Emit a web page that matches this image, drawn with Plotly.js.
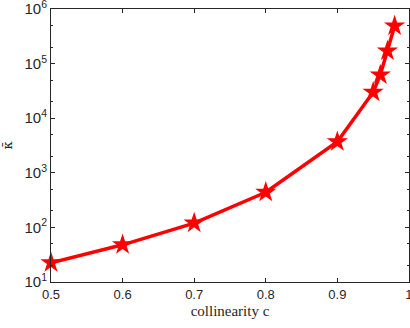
<!DOCTYPE html>
<html lang="en">
  <head>
    <meta charset="UTF-8" />
    <title>kappa vs collinearity</title>
    <script src="https://cdn.plot.ly/plotly-3.0.1.min.js"></script>
    <style>
      html, body { margin: 0; padding: 0; background: #fff; }
      #myDiv { width: 410px; height: 328px; }
    </style>
  </head>
  <body>
    <div id="myDiv"></div>
    <script>
      // collinearity levels and the condition number
      var collinearity = [0.5, 0.6, 0.7, 0.8, 0.9, 0.95, 0.96, 0.97, 0.98];
      var kappa = [22.5, 48, 120, 440, 3700, 30000, 62000, 170000, 490000];

      var xTicks = [0.5, 0.6, 0.7, 0.8, 0.9, 1];
      var xTickText = ["0.5", "0.6", "0.7", "0.8", "0.9", "1"];
      var yTicks = [10, 100, 1000, 10000, 100000, 1000000];
      var yTickText = yTicks.map(function (v) {
        return "10<sup>" + Math.round(Math.log10(v)) + "</sup>";
      });

      var axisColor = "#262626";

      var data = [
        {
          x: collinearity,
          y: kappa,
          mode: "lines+markers",
          line: { color: "#ff0000", width: 3.5 },
          marker: { symbol: "star", size: 16, color: "#ff0000" },
          cliponaxis: false,
        },
      ];

      var layout = {
        width: 410,
        height: 328,
        margin: { l: 51, r: 1, t: 9, b: 46 },
        paper_bgcolor: "#fff",
        plot_bgcolor: "#fff",
        showlegend: false,
        xaxis: {
          range: [0.5, 1.0001],
          tickvals: xTicks,
          ticktext: xTickText,
          ticks: "inside",
          ticklen: 4,
          tickcolor: axisColor,
          ticklabeloverflow: "allow",
          showline: true,
          linecolor: axisColor,
          mirror: "ticks",
          showgrid: false,
          zeroline: false,
          tickfont: { family: "Liberation Sans, Arial", size: 13, color: axisColor },
          title: {
            text: "collinearity c",
            font: { family: "Liberation Serif, serif", size: 15, color: axisColor },
            standoff: 4,
          },
        },
        yaxis: {
          type: "log",
          range: [0.9999, 6.0001],
          tickvals: yTicks,
          ticktext: yTickText,
          ticks: "inside",
          ticklen: 4,
          tickcolor: axisColor,
          ticklabeloverflow: "allow",
          minor: { ticks: "inside", ticklen: 2, tickcolor: axisColor, showgrid: false },
          showline: true,
          linecolor: axisColor,
          mirror: "ticks",
          showgrid: false,
          zeroline: false,
          tickfont: { family: "Liberation Sans, Arial", size: 15, color: axisColor },
          title: {
            text: "κ̄",
            font: { family: "DejaVu Serif, serif", size: 13, color: axisColor },
            standoff: 8,
          },
        },
      };

      Plotly.newPlot("myDiv", data, layout, { staticPlot: true });
    </script>
  </body>
</html>
